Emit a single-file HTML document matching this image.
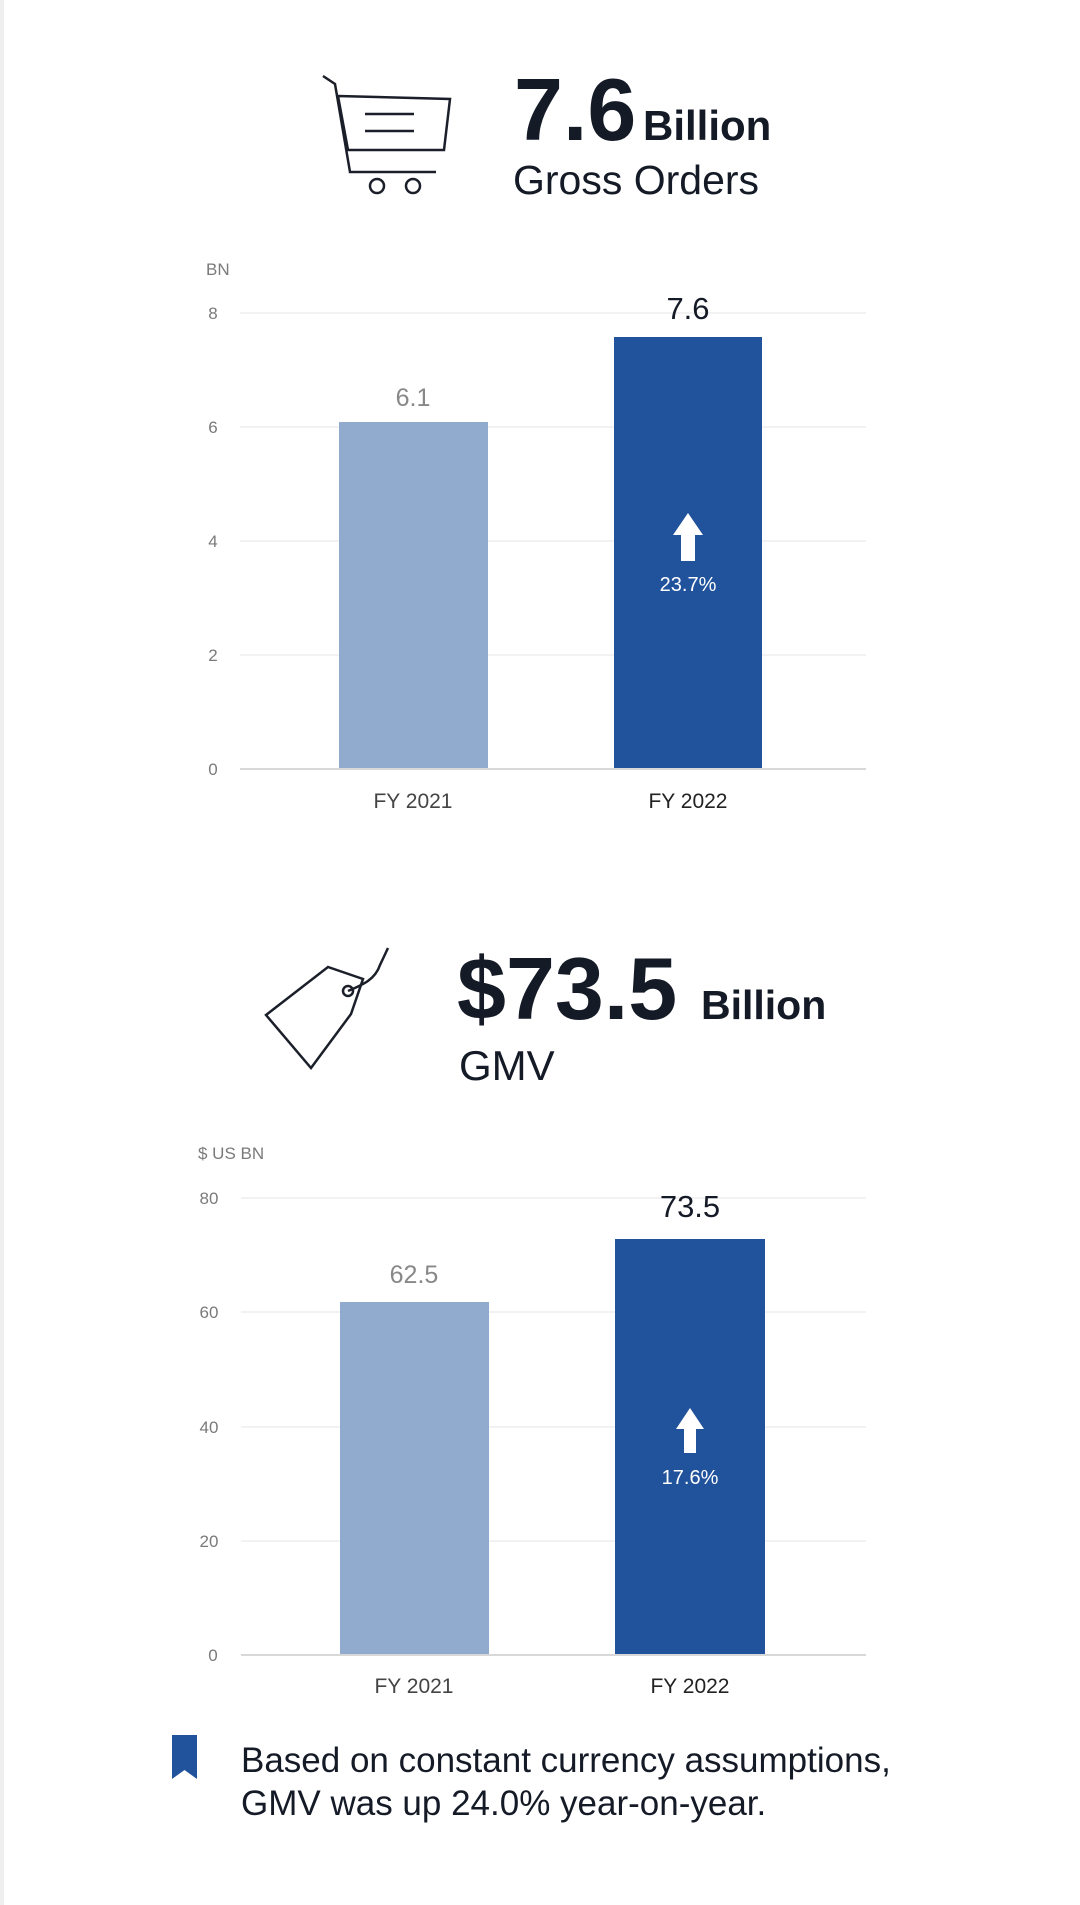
<!DOCTYPE html>
<html><head><meta charset="utf-8"><style>
html,body{margin:0;padding:0;background:#fff;}
svg{display:block;font-family:"Liberation Sans",sans-serif;}
</style></head><body>
<svg width="1080" height="1905" viewBox="0 0 1080 1905" xmlns="http://www.w3.org/2000/svg">
<rect x="0" y="0" width="4" height="1905" fill="#eeeeee"/>
<!-- Cart icon -->
<g fill="none" stroke="#1b1f2a" stroke-width="2.5">
<polyline points="323,76 335,84 350,172 436,172"/>
<polygon points="338,96 450,99 444,150 348,150"/>
<line x1="365" y1="114" x2="414" y2="114"/><line x1="365" y1="131" x2="414" y2="131"/>
<circle cx="377" cy="186" r="7"/><circle cx="413" cy="186" r="7"/>
</g>
<text x="514" y="140" font-size="88" font-weight="bold" fill="#151a27">7.6</text>
<text x="643" y="140" font-size="42" font-weight="bold" fill="#151a27">Billion</text>
<text x="513" y="194" font-size="41" fill="#151a27">Gross Orders</text>
<!-- chart 1 -->
<g font-size="17" fill="#7a7a7a">
<text x="206" y="275">BN</text>
<text x="213" y="319" text-anchor="middle">8</text>
<text x="213" y="433" text-anchor="middle">6</text>
<text x="213" y="547" text-anchor="middle">4</text>
<text x="213" y="661" text-anchor="middle">2</text>
<text x="213" y="775" text-anchor="middle">0</text>
</g>
<g stroke="#eeeeee" stroke-width="1.5">
<line x1="240" y1="313" x2="866" y2="313"/><line x1="240" y1="427" x2="866" y2="427"/>
<line x1="240" y1="541" x2="866" y2="541"/><line x1="240" y1="655" x2="866" y2="655"/>
</g>
<rect x="339" y="422" width="149" height="347" fill="#91abcf"/>
<rect x="614" y="337" width="148" height="432" fill="#21529c"/>
<line x1="240" y1="769" x2="866" y2="769" stroke="#d8d8d8" stroke-width="2"/>
<text x="413" y="406" font-size="25" fill="#888" text-anchor="middle">6.1</text>
<text x="688" y="319" font-size="31" fill="#151a27" text-anchor="middle">7.6</text>
<polygon points="688,513 703,535 695,535 695,561 681,561 681,535 673,535" fill="#fff"/>
<text x="688" y="591" font-size="20" fill="#fff" text-anchor="middle">23.7%</text>
<text x="413" y="808" font-size="21" fill="#444" text-anchor="middle">FY 2021</text>
<text x="688" y="808" font-size="21" fill="#222" text-anchor="middle">FY 2022</text>
<!-- Tag icon -->
<g fill="none" stroke="#1b1f2a" stroke-width="2.5">
<polygon points="266,1015 328,967 363,979 351,1014 311,1068"/>
<circle cx="348" cy="991" r="5"/>
<path d="M348,991 C362,985 375,980 380,965 L388,948"/>
</g>
<text x="457" y="1019" font-size="88" font-weight="bold" fill="#151a27">$73.5</text>
<text x="701" y="1019" font-size="41" font-weight="bold" fill="#151a27">Billion</text>
<text x="459" y="1080" font-size="42" fill="#151a27">GMV</text>
<!-- chart 2 -->
<g font-size="17" fill="#7a7a7a">
<text x="198" y="1159">$ US BN</text>
<text x="209" y="1204" text-anchor="middle">80</text>
<text x="209" y="1318" text-anchor="middle">60</text>
<text x="209" y="1433" text-anchor="middle">40</text>
<text x="209" y="1547" text-anchor="middle">20</text>
<text x="213" y="1661" text-anchor="middle">0</text>
</g>
<g stroke="#eeeeee" stroke-width="1.5">
<line x1="241" y1="1198" x2="866" y2="1198"/><line x1="241" y1="1312" x2="866" y2="1312"/>
<line x1="241" y1="1427" x2="866" y2="1427"/><line x1="241" y1="1541" x2="866" y2="1541"/>
</g>
<rect x="340" y="1302" width="149" height="353" fill="#91abcf"/>
<rect x="615" y="1239" width="150" height="416" fill="#21529c"/>
<line x1="241" y1="1655" x2="866" y2="1655" stroke="#d8d8d8" stroke-width="2"/>
<text x="414" y="1283" font-size="25" fill="#888" text-anchor="middle">62.5</text>
<text x="690" y="1217" font-size="31" fill="#151a27" text-anchor="middle">73.5</text>
<polygon points="690,1408 704,1429 696,1429 696,1453 684,1453 684,1429 676,1429" fill="#fff"/>
<text x="690" y="1484" font-size="20" fill="#fff" text-anchor="middle">17.6%</text>
<text x="414" y="1693" font-size="21" fill="#444" text-anchor="middle">FY 2021</text>
<text x="690" y="1693" font-size="21" fill="#222" text-anchor="middle">FY 2022</text>
<!-- note -->
<polygon points="172,1735 197,1735 197,1779 184.5,1770 172,1779" fill="#21529c"/>
<text x="241" y="1772" font-size="35" fill="#151a27">Based on constant currency assumptions,</text>
<text x="241" y="1815" font-size="35" fill="#151a27">GMV was up 24.0% year-on-year.</text>
</svg>
</body></html>
